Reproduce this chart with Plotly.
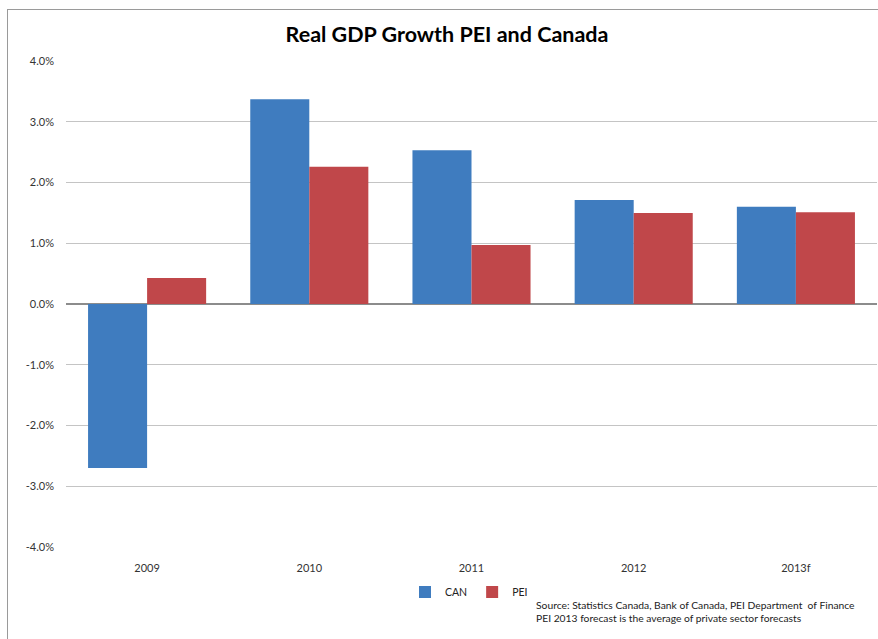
import plotly.graph_objects as go

categories = ["2009", "2010", "2011", "2012", "2013f"]
can_values = [-2.70, 3.37, 2.53, 1.71, 1.60]
pei_values = [0.43, 2.26, 0.97, 1.50, 1.51]
y_ticks = [-4, -3, -2, -1, 0, 1, 2, 3, 4]
y_tick_labels = ["-4.0%", "-3.0%", "-2.0%", "-1.0%", "0.0%", "1.0%", "2.0%", "3.0%", "4.0%"]

W, H = 878, 639
L, R, T, B = 66, 1, 61, 92
pw, ph = W - L - R, H - T - B

def px(x):
    return (x - L) / pw

def py(y):
    return (H - B - y) / ph

fig = go.Figure()
fig.add_trace(go.Bar(x=categories, y=can_values, name="CAN", marker_color="#3F7CBF",
                     marker_line_width=0))
fig.add_trace(go.Bar(x=categories, y=pei_values, name="PEI", marker_color="#C0474A",
                     marker_line_width=0))

font_family = "Lato, Open Sans, sans-serif"
fig.update_layout(
    width=W, height=H,
    margin=dict(l=L, r=R, t=T, b=B),
    paper_bgcolor="white", plot_bgcolor="white",
    barmode="group", bargap=0.272, bargroupgap=0,
    font=dict(family=font_family, size=10.5, color="#333333"),
    title=dict(text="<b>Real GDP Growth PEI and Canada</b>", xref="container", x=447 / W, xanchor="center",
               y=1 - 34 / H, yanchor="middle", font=dict(size=21.5, color="#000000", family=font_family)),
    legend=dict(orientation="h", x=px(405), xanchor="left", y=py(592), yanchor="middle",
                font=dict(size=10.5, color="#222222"), itemwidth=30, tracegroupgap=0,
                traceorder="normal"),
    showlegend=True,
)
fig.update_yaxes(range=[-4, 4], tickvals=y_ticks, ticktext=y_tick_labels,
                 showgrid=True, gridcolor="#C4C4C4", gridwidth=1,
                 zeroline=True, zerolinecolor="#8C8C8C", zerolinewidth=1.5,
                 showline=False, ticks="", ticklabelstandoff=11,
                 tickfont=dict(size=11, color="#333333"))
fig.update_xaxes(showgrid=False, showline=False, ticks="", ticklabelstandoff=13,
                 tickfont=dict(size=11, color="#333333"))

fig.add_annotation(text="Source: Statistics Canada, Bank of Canada, PEI Department  of Finance<br>"
                        "PEI 2013 forecast is the average of private sector forecasts",
                   xref="paper", yref="paper", x=px(534), y=py(611), xanchor="left", yanchor="middle",
                   align="left", showarrow=False, font=dict(size=10.3, color="#222222", family=font_family))

# chart frame
fig.add_shape(type="line", xref="paper", yref="paper", x0=px(7.5), x1=px(7.5), y0=py(9), y1=py(700),
              line=dict(color="#9A9A9A", width=1))
fig.add_shape(type="line", xref="paper", yref="paper", x0=px(7.5), x1=px(900), y0=py(9.5), y1=py(9.5),
              line=dict(color="#9A9A9A", width=1))

fig.write_html("out.html")
